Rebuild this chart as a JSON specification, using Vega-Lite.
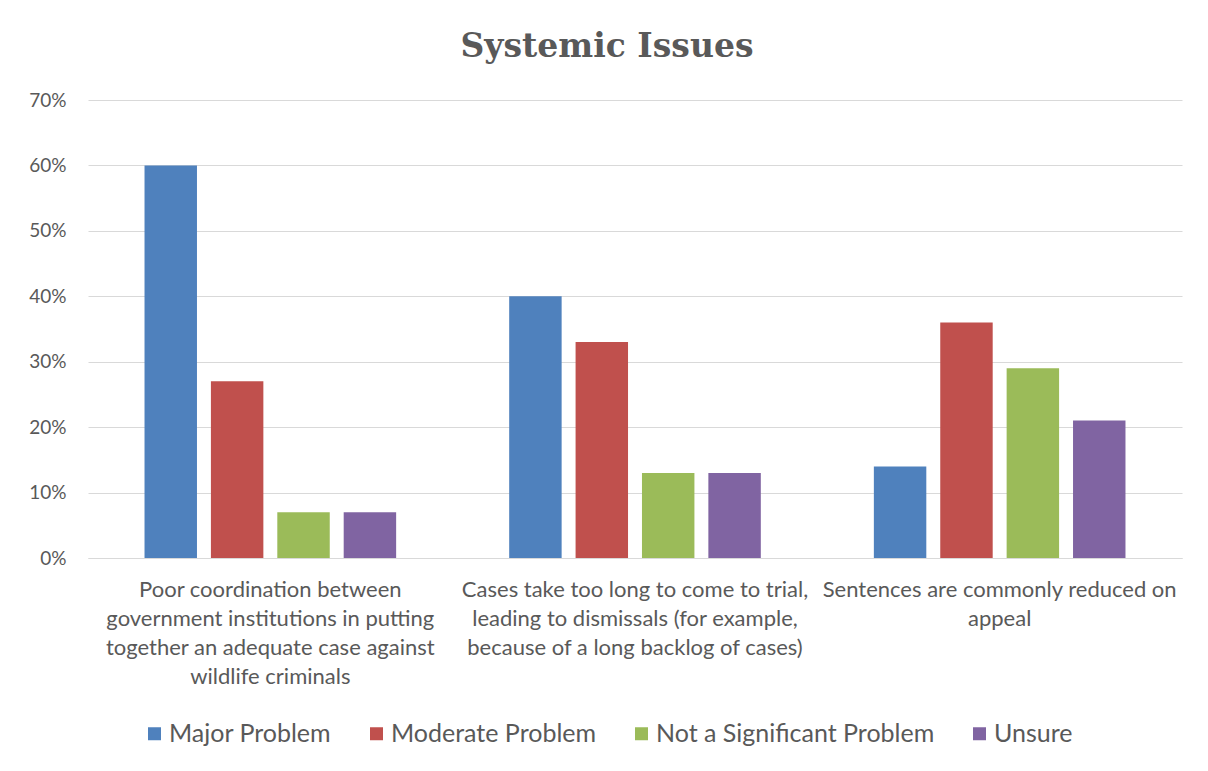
{
  "$schema": "https://vega.github.io/schema/vega-lite/v6.json",
  "width": 1094,
  "height": 458,
  "autosize": {"type": "none"},
  "padding": {"left": 88, "top": 100, "right": 26, "bottom": 213},
  "background": "white",
  "title": {
    "text": "Systemic Issues",
    "font": "DejaVu Serif",
    "fontSize": 33,
    "fontWeight": "bold",
    "color": "#595959",
    "anchor": "middle",
    "dx": -28,
    "offset": 27
  },
  "data": {
    "values": [
      {"issue": "Poor coordination between government institutions in putting together an adequate case against wildlife criminals", "response": "Major Problem", "share": 0.60},
      {"issue": "Poor coordination between government institutions in putting together an adequate case against wildlife criminals", "response": "Moderate Problem", "share": 0.27},
      {"issue": "Poor coordination between government institutions in putting together an adequate case against wildlife criminals", "response": "Not a Significant Problem", "share": 0.07},
      {"issue": "Poor coordination between government institutions in putting together an adequate case against wildlife criminals", "response": "Unsure", "share": 0.07},
      {"issue": "Cases take too long to come to trial, leading to dismissals (for example, because of a long backlog of cases)", "response": "Major Problem", "share": 0.40},
      {"issue": "Cases take too long to come to trial, leading to dismissals (for example, because of a long backlog of cases)", "response": "Moderate Problem", "share": 0.33},
      {"issue": "Cases take too long to come to trial, leading to dismissals (for example, because of a long backlog of cases)", "response": "Not a Significant Problem", "share": 0.13},
      {"issue": "Cases take too long to come to trial, leading to dismissals (for example, because of a long backlog of cases)", "response": "Unsure", "share": 0.13},
      {"issue": "Sentences are commonly reduced on appeal", "response": "Major Problem", "share": 0.14},
      {"issue": "Sentences are commonly reduced on appeal", "response": "Moderate Problem", "share": 0.36},
      {"issue": "Sentences are commonly reduced on appeal", "response": "Not a Significant Problem", "share": 0.29},
      {"issue": "Sentences are commonly reduced on appeal", "response": "Unsure", "share": 0.21}
    ]
  },
  "mark": {"type": "bar"},
  "encoding": {
    "x": {
      "field": "issue",
      "type": "nominal",
      "sort": null,
      "scale": {"paddingInner": 0.31, "paddingOuter": 0.155},
      "axis": {
        "title": null,
        "labelAngle": 0,
        "labelFont": "Lato",
        "labelFontSize": 22,
        "labelColor": "#595959",
        "labelLineHeight": 29,
        "labelPadding": 21,
        "labelLimit": 400,
        "ticks": false,
        "domainColor": "#d9d9d9",
        "domainWidth": 1,
        "labelExpr": "datum.label == 'Sentences are commonly reduced on appeal' ? ['Sentences are commonly reduced on', 'appeal'] : indexof(datum.label, 'Poor') == 0 ? ['Poor coordination between', 'government institutions in putting', 'together an adequate case against', 'wildlife criminals'] : ['Cases take too long to come to trial,', 'leading to dismissals (for example,', 'because of a long backlog of cases)']"
      }
    },
    "xOffset": {
      "field": "response",
      "type": "nominal",
      "sort": ["Major Problem", "Moderate Problem", "Not a Significant Problem", "Unsure"],
      "scale": {"paddingInner": 0.21, "paddingOuter": 0}
    },
    "y": {
      "field": "share",
      "type": "quantitative",
      "scale": {"domain": [0, 0.7]},
      "axis": {
        "title": null,
        "format": ".0%",
        "values": [0, 0.1, 0.2, 0.3, 0.4, 0.5, 0.6, 0.7],
        "labelFont": "Lato",
        "labelFontSize": 19,
        "labelColor": "#595959",
        "labelPadding": 22,
        "ticks": false,
        "domain": false,
        "gridColor": "#d9d9d9",
        "gridWidth": 1
      }
    },
    "color": {
      "field": "response",
      "type": "nominal",
      "sort": ["Major Problem", "Moderate Problem", "Not a Significant Problem", "Unsure"],
      "scale": {
        "domain": ["Major Problem", "Moderate Problem", "Not a Significant Problem", "Unsure"],
        "range": ["#4F81BD", "#C0504D", "#9BBB59", "#8064A2"]
      },
      "legend": {
        "title": null,
        "orient": "none",
        "direction": "horizontal",
        "legendX": 54,
        "legendY": 621,
        "symbolType": "square",
        "symbolSize": 169,
        "symbolStrokeWidth": 0,
        "symbolOpacity": 1,
        "labelFont": "Lato",
        "labelFontSize": 25,
        "labelColor": "#595959",
        "labelOffset": 2,
        "columnPadding": 32,
        "labelLimit": 400
      }
    }
  },
  "config": {
    "view": {"stroke": null}
  }
}
